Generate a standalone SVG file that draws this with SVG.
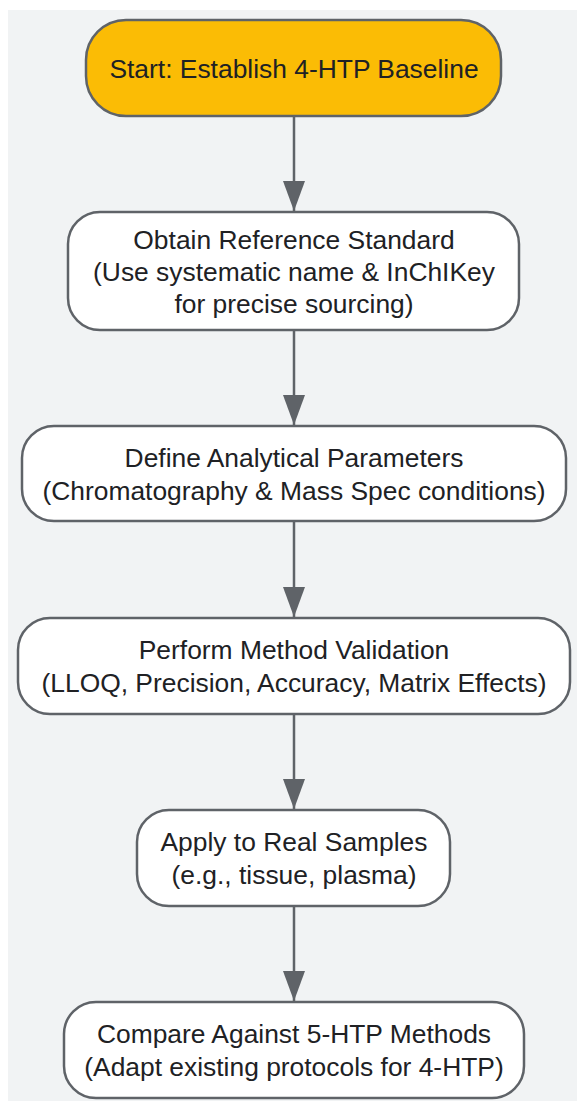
<svg xmlns="http://www.w3.org/2000/svg" width="577" height="1101" viewBox="0 0 577 1101">
<defs>
<style>
.n rect{fill:#ffffff;stroke:#5f6368;stroke-width:2.5}
.n.start rect{fill:#fbbc05}
.n text{font-family:"Liberation Sans",Arial,sans-serif;font-size:26.4px;fill:#202124;text-anchor:middle}
.c line{stroke:#5f6368;stroke-width:2.5}
</style>
<marker id="arr" viewBox="0 0 30 22" refX="30" refY="11" markerWidth="30" markerHeight="22" markerUnits="userSpaceOnUse" orient="auto">
<path d="M0,0 L30,11 L0,22 Z" fill="#5f6368"/>
</marker>
</defs>
<rect x="8" y="10" width="569" height="1091" fill="#f1f3f4"/>
<g class="c">
<line x1="294" y1="116" x2="294" y2="211" marker-end="url(#arr)"/>
<line x1="294" y1="330" x2="294" y2="425" marker-end="url(#arr)"/>
<line x1="294" y1="521" x2="294" y2="617" marker-end="url(#arr)"/>
<line x1="294" y1="714" x2="294" y2="809" marker-end="url(#arr)"/>
<line x1="294" y1="906" x2="294" y2="1001" marker-end="url(#arr)"/>
</g>
<g id="n1" class="n start">
<rect x="86" y="20" width="415" height="96" rx="40"/>
<text x="294" y="78">Start: Establish 4-HTP Baseline</text>
</g>
<g id="n2" class="n">
<rect x="68" y="212" width="451" height="118" rx="32"/>
<text x="294" y="249">Obtain Reference Standard</text>
<text x="294" y="281">(Use systematic name &amp; InChIKey</text>
<text x="294" y="313">for precise sourcing)</text>
</g>
<g id="n3" class="n">
<rect x="22" y="426" width="544" height="95" rx="32"/>
<text x="294" y="467">Define Analytical Parameters</text>
<text x="294" y="500">(Chromatography &amp; Mass Spec conditions)</text>
</g>
<g id="n4" class="n">
<rect x="18" y="618" width="552" height="96" rx="32"/>
<text x="294" y="659">Perform Method Validation</text>
<text x="294" y="692">(LLOQ, Precision, Accuracy, Matrix Effects)</text>
</g>
<g id="n5" class="n">
<rect x="137" y="810" width="313" height="96" rx="32"/>
<text x="294" y="851">Apply to Real Samples</text>
<text x="294" y="884">(e.g., tissue, plasma)</text>
</g>
<g id="n6" class="n">
<rect x="64" y="1002" width="460" height="96" rx="32"/>
<text x="294" y="1043">Compare Against 5-HTP Methods</text>
<text x="294" y="1076">(Adapt existing protocols for 4-HTP)</text>
</g>
</svg>
